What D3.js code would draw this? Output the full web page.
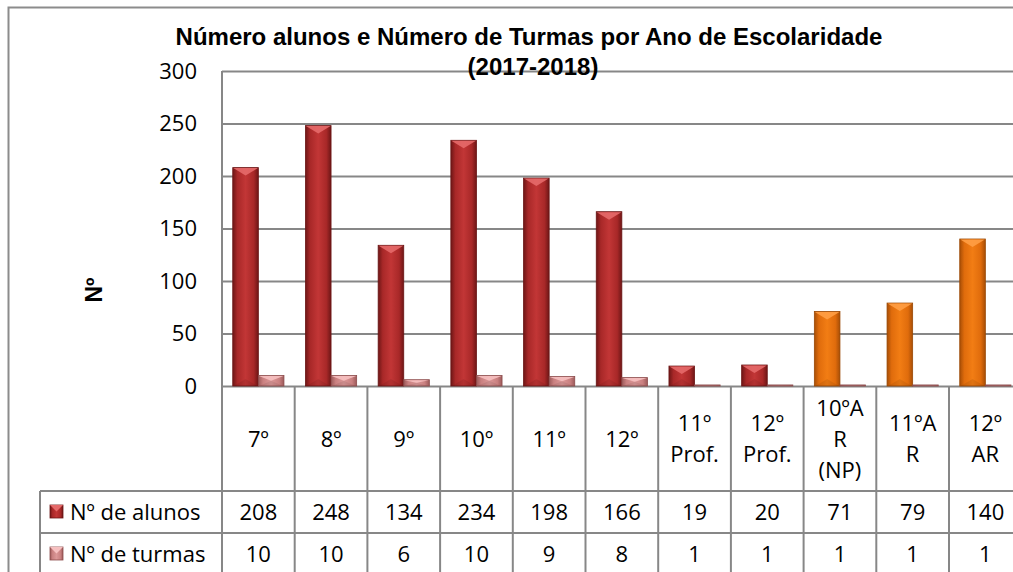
<!DOCTYPE html>
<html>
<head>
    <meta charset="utf-8">
    <script type="text/javascript" src="https://d3js.org/d3.v7.min.js"></script>
    <style>
        body { margin: 0; background: white; }
        svg { display: block; }
    </style>
</head>
<body>
    <div id="chart"></div>
    <script type="text/javascript">
        // data
        const categories = ["7º", "8º", "9º", "10º", "11º", "12º", "11º\nProf.", "12º\nProf.", "10ºA\nR\n(NP)", "11ºA\nR", "12º\nAR"];
        const alunos = [208, 248, 134, 234, 198, 166, 19, 20, 71, 79, 140];
        const turmas = [10, 10, 6, 10, 9, 8, 1, 1, 1, 1, 1];
        const seriesNames = ["Nº de alunos", "Nº de turmas"];
        const yTicks = [0, 50, 100, 150, 200, 250, 300];
        const titleLines = ["Número alunos e Número de Turmas por Ano de Escolaridade", "(2017-2018)"];

        // layout
        const width = 1013, height = 572;
        const plotLeft = 222, plotTop = 71, plotBottom = 386;
        const bandW = 72.7;
        const plotRight = plotLeft + bandW * categories.length;
        const rowLines = [491, 533, 575];
        const tableLeft = 40;
        const orangeFrom = 8; // the "AR" categories are drawn in orange
        const gridColor = "#878787";
        const tableFont = "'Open Sans', sans-serif";
        const tableSize = "22px";

        const svg = d3.select("#chart").append("svg")
            .attr("width", width)
            .attr("height", height);

        const defs = svg.append("defs");
        const grad = (id, edge, mid, center) => {
            let g = defs.append("linearGradient").attr("id", id)
                .attr("x1", "0%").attr("x2", "100%").attr("y1", "0%").attr("y2", "0%");
            g.append("stop").attr("offset", "0%").attr("stop-color", edge);
            g.append("stop").attr("offset", "18%").attr("stop-color", mid);
            g.append("stop").attr("offset", "50%").attr("stop-color", center);
            g.append("stop").attr("offset", "82%").attr("stop-color", mid);
            g.append("stop").attr("offset", "100%").attr("stop-color", edge);
        };
        grad("gRed", "#6e1616", "#a82828", "#c23636");
        grad("gPink", "#9c5a5a", "#c98080", "#dc9898");
        grad("gOrange", "#a84e06", "#e06c0c", "#f27d14");

        const styles = {
            red: {fill: "url(#gRed)", top: "#e56a6a", stroke: "#6a1414"},
            pink: {fill: "url(#gPink)", top: "#f6c0c0", stroke: "#8c4c4c"},
            orange: {fill: "url(#gOrange)", top: "#ff9e45", stroke: "#9a4804"}
        };

        // outer chart border (cropped on the right and bottom)
        svg.append("path")
            .attr("d", `M 8.5 ${height + 5} L 8.5 7.5 L ${width + 5} 7.5`)
            .attr("fill", "none")
            .attr("stroke", "#8c8c8c")
            .attr("stroke-width", 2);

        // scales
        const x = d3.scaleBand()
            .domain(d3.range(categories.length))
            .range([plotLeft, plotRight]);
        const xs = d3.scaleBand()
            .domain(seriesNames)
            .range([0, x.bandwidth()])
            .paddingOuter(0.42);
        const y = d3.scaleLinear()
            .domain([0, 300])
            .range([plotBottom, plotTop]);

        // gridlines + tick labels
        const yAxis = svg.append("g")
            .attr("transform", `translate(${plotLeft},0)`)
            .call(d3.axisLeft(y).tickValues(yTicks).tickSizeInner(-(plotRight - plotLeft)).tickSizeOuter(0).tickPadding(25));
        yAxis.select(".domain").remove();
        yAxis.selectAll(".tick line").attr("stroke", gridColor).attr("stroke-width", 2);
        yAxis.selectAll(".tick text")
            .attr("fill", "#000")
            .style("font-family", tableFont)
            .style("font-size", tableSize);

        // title
        svg.selectAll("text.title")
            .data(titleLines)
            .enter()
            .append("text")
            .attr("class", "title")
            .attr("x", (d, i) => i === 0 ? 529 : 533)
            .attr("y", (d, i) => i === 0 ? 45 : 75)
            .attr("text-anchor", "middle")
            .style("font-family", "'Liberation Sans', Arial, sans-serif")
            .style("font-weight", "bold")
            .style("font-size", "24px")
            .text(d => d);

        // y axis title
        svg.append("text")
            .attr("transform", "translate(102,290) rotate(-90)")
            .attr("text-anchor", "middle")
            .style("font-family", "'Liberation Sans', Arial, sans-serif")
            .style("font-weight", "bold")
            .style("font-size", "23px")
            .text("Nº");

        // bars
        const barData = [];
        categories.forEach((c, i) => {
            barData.push({i: i, key: seriesNames[0], v: alunos[i], st: i >= orangeFrom ? styles.orange : styles.red});
            barData.push({i: i, key: seriesNames[1], v: turmas[i], st: styles.pink});
        });

        const bars = svg.selectAll("g.bar")
            .data(barData)
            .enter()
            .append("g")
            .attr("class", "bar");

        bars.append("rect")
            .attr("x", d => x(d.i) + xs(d.key))
            .attr("y", d => y(d.v))
            .attr("width", xs.bandwidth())
            .attr("height", d => y(0) - y(d.v))
            .attr("fill", d => d.st.fill)
            .attr("stroke", d => d.st.stroke)
            .attr("stroke-width", 0.8);

        // bevelled top face
        bars.append("path")
            .attr("d", d => {
                let x0 = x(d.i) + xs(d.key), x1 = x0 + xs.bandwidth();
                let y0 = y(d.v);
                let b = Math.min(8, (y(0) - y0) / 2);
                return `M ${x0 + 0.5} ${y0 + 0.5} L ${x1 - 0.5} ${y0 + 0.5} L ${(x0 + x1) / 2} ${y0 + b} Z`;
            })
            .attr("fill", d => d.st.top)
            .attr("opacity", 0.9);

        // soft bottom face
        bars.append("path")
            .attr("d", d => {
                let x0 = x(d.i) + xs(d.key), x1 = x0 + xs.bandwidth();
                let y0 = y(0);
                let b = Math.min(7, (y0 - y(d.v)) / 2);
                return `M ${x0 + 1} ${y0} L ${x1 - 1} ${y0} L ${(x0 + x1) / 2} ${y0 - b} Z`;
            })
            .attr("fill", "#000")
            .attr("opacity", 0.08);

        // data table lines
        const lineG = svg.append("g")
            .attr("stroke", gridColor)
            .attr("stroke-width", 2);
        lineG.append("line")
            .attr("x1", plotLeft).attr("x2", plotLeft)
            .attr("y1", plotTop).attr("y2", height + 5);
        lineG.selectAll("line.col")
            .data(d3.range(1, categories.length + 1))
            .enter()
            .append("line")
            .attr("class", "col")
            .attr("x1", i => x.step() * i + plotLeft)
            .attr("x2", i => x.step() * i + plotLeft)
            .attr("y1", plotBottom)
            .attr("y2", height + 5);
        lineG.selectAll("line.row")
            .data(rowLines)
            .enter()
            .append("line")
            .attr("class", "row")
            .attr("x1", tableLeft).attr("x2", plotRight)
            .attr("y1", d => d).attr("y2", d => d);
        lineG.append("line")
            .attr("x1", tableLeft).attr("x2", tableLeft)
            .attr("y1", rowLines[0]).attr("y2", height + 5);

        // category labels
        const catText = svg.selectAll("text.cat")
            .data(categories)
            .enter()
            .append("text")
            .attr("class", "cat")
            .attr("text-anchor", "middle")
            .style("font-family", tableFont)
            .style("font-size", tableSize);
        catText.each(function(d, i) {
            let lines = d.split("\n");
            let cy = (plotBottom + rowLines[0]) / 2;
            let lh = 31;
            let t = d3.select(this);
            lines.forEach((ln, k) => {
                t.append("tspan")
                    .attr("x", x(i) + x.bandwidth() / 2)
                    .attr("y", cy + (k - (lines.length - 1) / 2) * lh + 8)
                    .text(ln);
            });
        });

        // value rows
        const rows = [alunos, turmas];
        rows.forEach((vals, r) => {
            let cy = (rowLines[r] + rowLines[r + 1]) / 2;
            svg.selectAll("text.val" + r)
                .data(vals)
                .enter()
                .append("text")
                .attr("class", "val" + r)
                .attr("x", (d, i) => x(i) + x.bandwidth() / 2)
                .attr("y", cy + 8)
                .attr("text-anchor", "middle")
                .style("font-family", tableFont)
                .style("font-size", tableSize)
                .text(d => d);

            // legend key
            let st = r === 0 ? styles.red : styles.pink;
            let kx = 50, ky = cy - 7, ks = 13;
            svg.append("rect")
                .attr("x", kx).attr("y", ky)
                .attr("width", ks).attr("height", ks)
                .attr("fill", st.fill)
                .attr("stroke", st.stroke)
                .attr("stroke-width", 0.8);
            svg.append("path")
                .attr("d", `M ${kx} ${ky} L ${kx + ks} ${ky} L ${kx + ks / 2} ${ky + ks / 2} Z`)
                .attr("fill", st.top);

            svg.append("text")
                .attr("x", 70)
                .attr("y", cy + 8)
                .style("font-family", tableFont)
                .style("font-size", tableSize)
                .text(seriesNames[r]);
        });
    </script>
</body>
</html>
